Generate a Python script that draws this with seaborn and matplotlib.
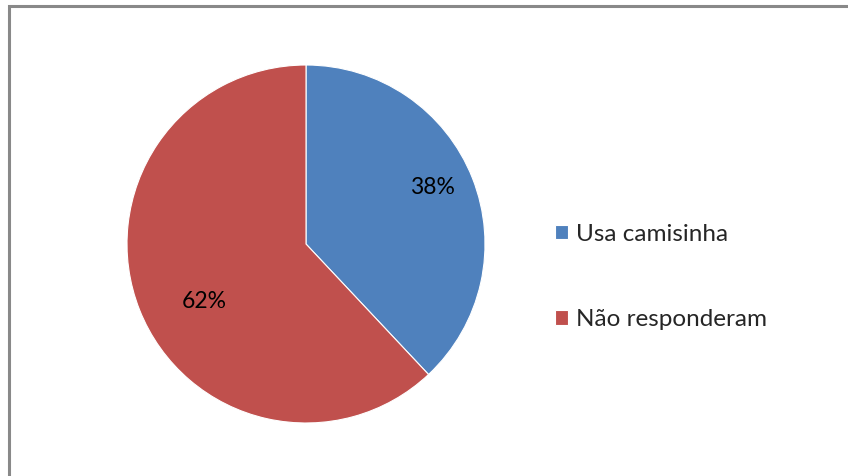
import numpy as np
import matplotlib
matplotlib.use("Agg")
import matplotlib.pyplot as plt
import seaborn as sns
from matplotlib.patches import Rectangle

categories = ["Usa camisinha", "Não responderam"]
values = [38, 62]
colors = ["#4F81BD", "#C0504D"]
# percentage label positions, in units of the pie radius
label_pos = [(0.704, 0.318), (-0.567, -0.324)]

sns.set_theme(style="white")
plt.rcParams["font.family"] = ["Lato", "DejaVu Sans"]

W, H = 848, 476
fig = plt.figure(figsize=(W / 100, H / 100), dpi=100)
fig.patch.set_facecolor("white")

# chart frame
fig.patches.append(Rectangle((8.5 / W, -0.1), 1.2, 1 - 5.5 / H + 0.1,
                             transform=fig.transFigure, fill=False,
                             edgecolor="#898989", linewidth=2.2))

cx, cy, r = 306, H - 244, 179
ax = fig.add_axes([(cx - r) / W, (cy - r) / H, 2 * r / W, 2 * r / H])
wedges, _ = ax.pie(values, colors=colors, startangle=90, counterclock=False,
                   radius=1, wedgeprops=dict(edgecolor="white", linewidth=0.8))
ax.set_xlim(-1, 1)
ax.set_ylim(-1, 1)
ax.set_aspect("equal")
ax.axis("off")

total = sum(values)
for v, (lx, ly) in zip(values, label_pos):
    ax.text(lx, ly, f"{round(100 * v / total)}%",
            ha="center", va="center", fontsize=16.5, color="black")

fig.legend(wedges, categories, loc="center left",
           bbox_to_anchor=(555 / W, (H - 277) / H), frameon=False,
           fontsize=17.5, handlelength=0.53, handleheight=0.53,
           handletextpad=0.33, labelspacing=2.65, borderpad=0,
           borderaxespad=0)

fig.savefig("out.png", dpi=100)
